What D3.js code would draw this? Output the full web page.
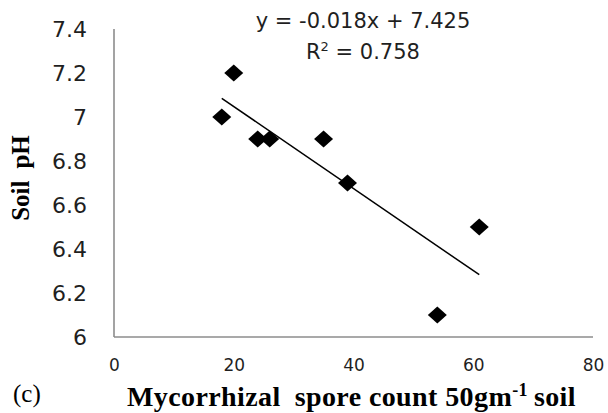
<!DOCTYPE html>
<html>
<head>
<meta charset="utf-8">
<script src="https://cdn.jsdelivr.net/npm/d3@7"></script>
<style>
  html, body { margin: 0; padding: 0; background: #fff; overflow: hidden; }
  svg { display: block; }
</style>
</head>
<body>
<svg id="chart" width="608" height="413"></svg>
<script>
// Mycorrhizal spore count vs soil pH
const sporeCount = [18, 20, 24, 26, 35, 39, 54, 61];
const soilPH     = [7.0, 7.2, 6.9, 6.9, 6.9, 6.7, 6.1, 6.5];
const xTicks = [0, 20, 40, 60, 80];
const yTicks = [6, 6.2, 6.4, 6.6, 6.8, 7, 7.2, 7.4];
const equationText = "y = -0.018x + 7.425";
const rSquaredValue = "0.758";

const svg = d3.select("#chart");
const x = d3.scaleLinear().domain([0, 80]).range([114, 593]);
const y = d3.scaleLinear().domain([6, 7.4]).range([337, 29]);

const axisColor = "#8c8c8c";
const textColor = "#1f1f1f";

// Axes (no tick marks, only labels)
const xAxis = d3.axisBottom(x).tickValues(xTicks).tickSize(0).tickPadding(22).tickFormat(d3.format("d"));
const yAxis = d3.axisLeft(y).tickValues(yTicks).tickSize(0).tickPadding(27).tickFormat(d => String(d));

const gx = svg.append("g").attr("transform", `translate(0,${y(6)})`).call(xAxis);
gx.select(".domain").attr("stroke", axisColor).attr("stroke-width", 1.6).attr("d", `M${x(0)},0H${x(80)}`);
gx.selectAll("text").attr("fill", textColor).style("font-family", "DejaVu Sans").style("font-size", "17px");

const gy = svg.append("g").attr("transform", `translate(${x(0)},0)`).call(yAxis);
gy.select(".domain").attr("stroke", axisColor).attr("stroke-width", 1.6).attr("d", `M0,${y(7.4)}V${y(6)}`);
gy.selectAll("text").attr("fill", textColor).style("font-family", "DejaVu Sans").style("font-size", "22px");

// Least-squares trend line over the observed range
const n = sporeCount.length;
const mx = d3.mean(sporeCount), my = d3.mean(soilPH);
let sxy = 0, sxx = 0;
for (let i = 0; i < n; i++) {
  sxy += (sporeCount[i] - mx) * (soilPH[i] - my);
  sxx += (sporeCount[i] - mx) ** 2;
}
const slope = sxy / sxx, intercept = my - slope * mx;
const [x0, x1] = d3.extent(sporeCount);
svg.append("line")
  .attr("x1", x(x0)).attr("y1", y(intercept + slope * x0))
  .attr("x2", x(x1)).attr("y2", y(intercept + slope * x1))
  .attr("stroke", "#000").attr("stroke-width", 1.5);

// Diamond markers
const hw = 9.5, hh = 8.5;
svg.append("g").selectAll("path")
  .data(sporeCount.map((d, i) => [d, soilPH[i]]))
  .join("path")
  .attr("d", d => {
    const cx = x(d[0]), cy = y(d[1]);
    return `M${cx},${cy - hh}L${cx + hw},${cy}L${cx},${cy + hh}L${cx - hw},${cy}Z`;
  })
  .attr("fill", "#000");

// Regression equation
svg.append("text")
  .attr("x", 363).attr("y", 28)
  .attr("text-anchor", "middle")
  .attr("fill", textColor)
  .style("font-family", "DejaVu Sans").style("font-size", "21px")
  .text(equationText);

const r2 = svg.append("text")
  .attr("x", 363).attr("y", 59)
  .attr("text-anchor", "middle")
  .attr("fill", textColor)
  .style("font-family", "DejaVu Sans").style("font-size", "21px");
r2.append("tspan").text("R");
r2.append("tspan").attr("dy", -8).style("font-size", "13px").text("2");
r2.append("tspan").attr("dy", 8).text(" = " + rSquaredValue);

// Axis titles
const yt = svg.append("text")
  .attr("transform", "translate(29,178) rotate(-90)")
  .attr("text-anchor", "middle")
  .attr("fill", "#000")
  .style("font-family", "Liberation Serif").style("font-weight", "bold").style("font-size", "25px");
yt.append("tspan").text("Soil");
yt.append("tspan").attr("dx", 12).text("pH");

const xt = svg.append("text")
  .attr("x", 127).attr("y", 406)
  .attr("fill", "#000")
  .style("font-family", "Liberation Serif").style("font-weight", "bold").style("font-size", "28px")
  .style("letter-spacing", "0.4px");
xt.append("tspan").text("Mycorrhizal");
xt.append("tspan").attr("dx", 14).text("spore count 50gm");
xt.append("tspan").attr("dy", -10).style("font-size", "18px").text("-1");
xt.append("tspan").attr("dy", 10).attr("dx", 6).text("soil");

// Panel label
svg.append("text")
  .attr("x", 13).attr("y", 402)
  .attr("fill", "#000")
  .style("font-family", "Liberation Serif").style("font-size", "25px")
  .text("(c)");
</script>
</body>
</html>
